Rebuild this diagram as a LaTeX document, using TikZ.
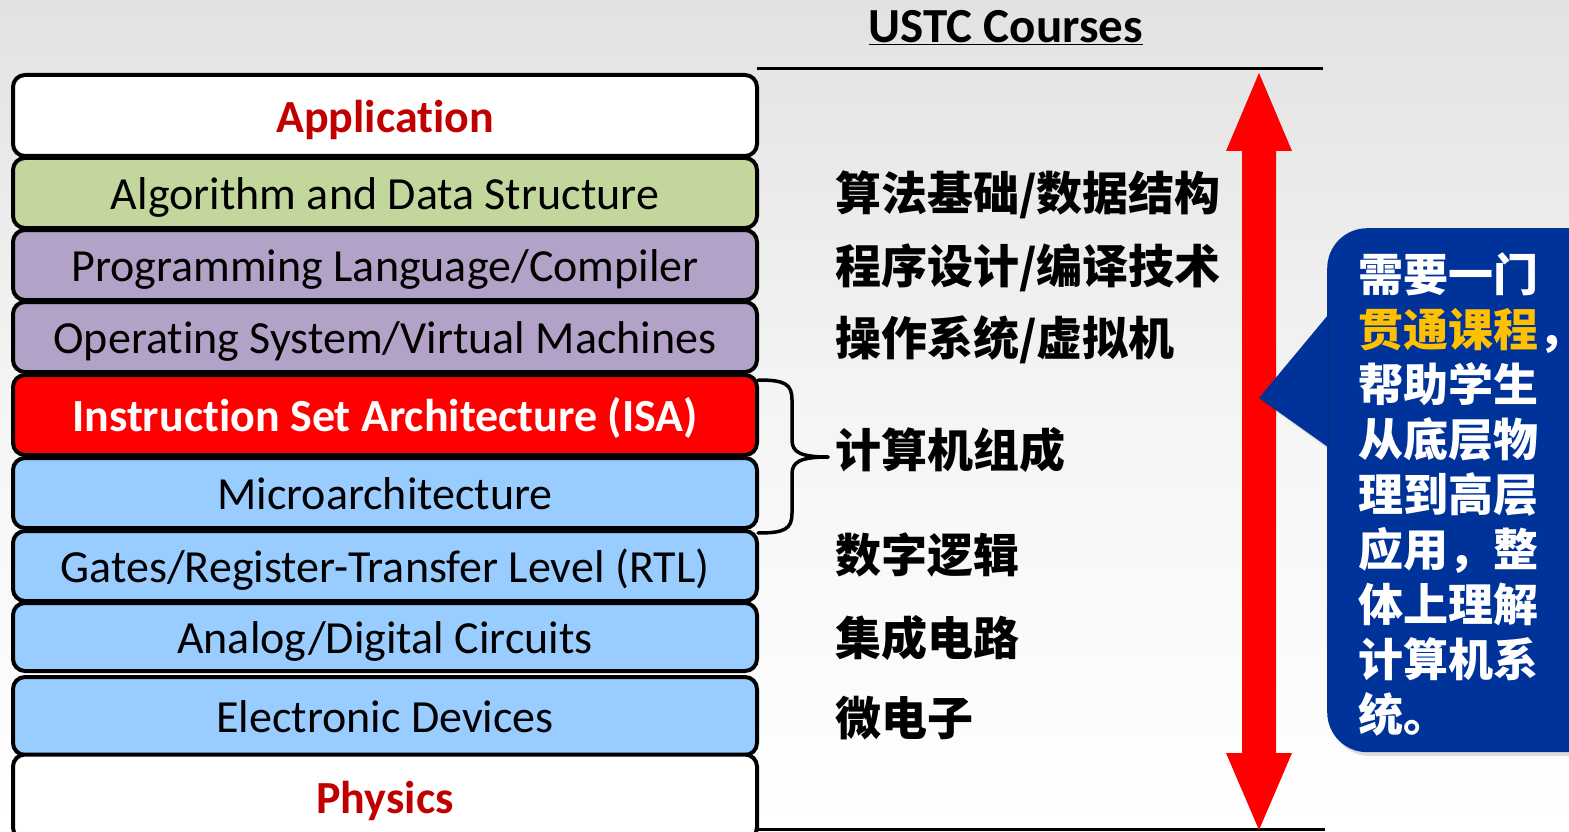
\documentclass[tikz,border=0pt]{standalone}
\usepackage{fontspec}
\setmainfont{Carlito}[Ligatures=NoCommon]
\newfontfamily\cjk{Noto Sans CJK SC}
\usetikzlibrary{positioning}
\definecolor{bggray}{HTML}{E2E2E2}
\definecolor{appred}{HTML}{C00000}
\definecolor{algogreen}{HTML}{C3D69B}
\definecolor{plpurple}{HTML}{B3A2C7}
\definecolor{hwblue}{HTML}{99CCFF}
\definecolor{calloutblue}{HTML}{003399}
\definecolor{goldtext}{HTML}{FFC000}
\tikzset{
  layer/.style={draw=black, line width=4pt, rounded corners=12pt, minimum width=744pt, inner sep=0pt,
    text height=33pt, text depth=0pt, font=\fontsize{46}{50}\selectfont},
  boldlayer/.style={layer, font=\bfseries\fontsize{46}{50}\selectfont},
  cnlabel/.style={anchor=west, inner sep=0pt, font=\cjk\bfseries\fontsize{46}{50}\selectfont},
  rule/.style={line width=3pt, black},
}
\begin{document}
\begin{tikzpicture}[x=1pt,y=-1pt]
\useasboundingbox (0,0) rectangle (1569,832);
\clip (0,0) rectangle (1569,832);
\shade[top color=bggray, bottom color=white, middle color=white!96!black] (0,0) rectangle (1569,832);
% layers
\node (app)   [boldlayer, fill=white, minimum height=81pt, text=appred] at (385,115.5) {Application};
\node (alg)   [layer, fill=algogreen, minimum height=70pt] at (385,193) {Algorithm and Data Structure};
\node (pl)    [layer, fill=plpurple, minimum height=70pt] at (385,265) {Programming Language/Compiler};
\node (os)    [layer, fill=plpurple, minimum height=70pt] at (385,337) {Operating System/Virtual Machines};
\node (isa)   [boldlayer, fill=red, minimum height=80pt, text=white] at (385,415) {Instruction Set Architecture (ISA)};
\node (micro) [layer, fill=hwblue, minimum height=70pt] at (385,493) {Microarchitecture};
\node (rtl)   [layer, fill=hwblue, minimum height=70pt] at (385,566) {Gates/Register-Transfer Level (RTL)};
\node (ckt)   [layer, fill=hwblue, minimum height=68pt] at (385,637) {Analog/Digital Circuits};
\node (dev)   [layer, fill=hwblue, minimum height=78pt] at (385,716) {Electronic Devices};
\node (phys)  [boldlayer, fill=white, minimum height=85pt, text=appred] at (385,797) {Physics};
% title and rules
\node (title) [font=\bfseries\fontsize{49}{52}\selectfont, inner sep=0pt] at (1006,28) {\underline{USTC Courses}};
\coordinate (rtopL) at (757,69);
\coordinate (rtopR) at (1323,69);
\coordinate (rbotL) at (757,829);
\coordinate (rbotR) at (1325,829);
\draw[rule] (rtopL) -- (rtopR);
\draw[rule] (rbotL) -- (rbotR);
% chinese labels
\node (c1) [cnlabel] at (835,195) {算法基础/数据结构};
\node (c2) [cnlabel] at (835,268) {程序设计/编译技术};
\node (c3) [cnlabel] at (835,340) {操作系统/虚拟机};
\node (c4) [cnlabel] at (835,450) {计算机组成};
\node (c5) [cnlabel] at (835,555) {数字逻辑};
\node (c6) [cnlabel] at (835,638) {集成电路};
\node (c7) [cnlabel] at (835,718) {微电子};
% brace
\coordinate (bt) at (758,380);
\coordinate (bb) at (758,533);
\coordinate (btip) at (828,457);
\draw[line width=3.5pt, line cap=round] (bt) .. controls (785,380) and (792,384) .. (792,400)
  -- (792,440) .. controls (792,452) and (800,457) .. (btip);
\draw[line width=3.5pt, line cap=round] (bb) .. controls (785,533) and (792,529) .. (792,513)
  -- (792,474) .. controls (792,462) and (800,457) .. (btip);
% red double arrow
\coordinate (atop) at (1259,73);
\coordinate (abot) at (1259,830);
\fill[red] (atop) -- (1292,151) -- (1276,151) -- (1276,753) -- (1292,753) -- (abot)
  -- (1226,753) -- (1242,753) -- (1242,151) -- (1226,151) -- cycle;
% callout
\fill[black, opacity=0.12, rounded corners=40pt] (1330,232) rectangle ++(320,524);
\node (callout) [fill=calloutblue, rounded corners=40pt, minimum width=320pt, minimum height=524pt, anchor=north west, inner sep=0pt] at (1327,228) {};
\coordinate (ptip) at (1259,398);
\fill[black, opacity=0.12] (1262,401) -- (1330,318) -- (1330,450) -- cycle;
\fill[calloutblue] (ptip) -- (1328,315) -- (1328,447) -- cycle;
\node (ctext) [anchor=north west, align=left, text=white, inner sep=0pt,
  font=\cjk\bfseries\fontsize{45}{55}\selectfont] at (1358,252)
  {需要一门\\{\color{goldtext}贯通课程}，\\帮助学生\\从底层物\\理到高层\\应用，整\\体上理解\\计算机系\\统。};
\end{tikzpicture}
\end{document}
